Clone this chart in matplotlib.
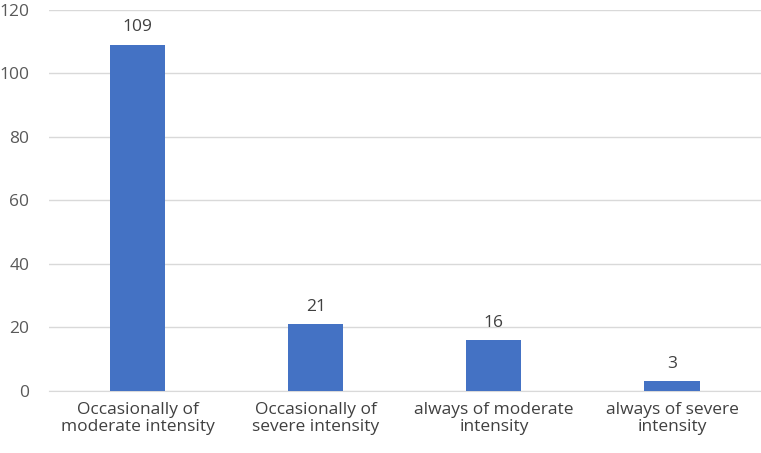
import matplotlib.pyplot as plt

# values
categories = ["Occasionally of\nmoderate intensity", "Occasionally of\nsevere intensity",
              "always of moderate\nintensity", "always of severe\nintensity"]
counts = [109, 21, 16, 3]

plt.rcParams['font.family'] = ['Open Sans', 'DejaVu Sans']

fig = plt.figure(figsize=(7.61, 4.53), dpi=100)
ax = fig.add_axes([0.064, 0.137, 0.936, 0.841])

x = range(len(categories))
bars = ax.bar(x, counts, width=0.31, color='#4472c4', zorder=3)

for b, v in zip(bars, counts):
    ax.text(b.get_x() + b.get_width() / 2, v + 3, str(v), ha='center', va='bottom',
            fontsize=12.5, color='#404040')

ax.set_ylim(0, 120)
ax.set_yticks(range(0, 121, 20))
ax.set_xlim(-0.5, 3.5)
ax.set_xticks(list(x))
ax.set_xticklabels(categories, fontsize=12.5, color='#404040', linespacing=1.1)
ax.tick_params(axis='y', labelsize=12.5, labelcolor='#595959', length=0, pad=14)
ax.tick_params(axis='x', length=0, pad=8)

ax.grid(axis='y', color='#d9d9d9', linewidth=1, zorder=0)
for s in ['top', 'right', 'left']:
    ax.spines[s].set_visible(False)
ax.spines['bottom'].set_color('#d9d9d9')

fig.savefig('out.png', dpi=100)
